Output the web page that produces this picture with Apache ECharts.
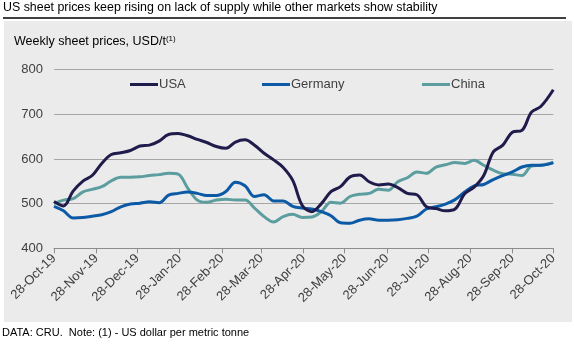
<!DOCTYPE html>
<html>
<head>
<meta charset="utf-8">
<script src="https://cdn.jsdelivr.net/npm/echarts@6/dist/echarts.min.js"></script>
<style>
html,body{margin:0;padding:0;background:#fff;}
#c{width:574px;height:344px;}
</style>
</head>
<body>
<div id="c"></div>
<script>
// Axis range (daily categories) and weekly observation dates
const startDate = '2019-10-28';
const endDate = '2020-10-28';
const seriesNames = ['USA', 'Germany', 'China'];
// weekly values, first point 28-Oct-19, weekly after, last point 28-Oct-20
const usa = [505,495,528,550,563,590,610,614,619,629,631,640,655,657,652,644,637,628,624,638,643,631,613,598,581,552,496,482,500,527,538,560,564,549,542,544,536,523,520,493,489,484,488,522,537,563,616,631,660,664,705,718,755];
const germany = [494,484,468,469,472,475,482,493,499,501,504,502,519,523,526,523,518,518,527,548,540,516,520,506,506,494,490,488,482,473,457,456,463,466,463,463,464,467,472,488,493,499,509,526,540,543,554,563,571,582,586,586,592];
const china = [500,508,511,526,532,538,551,559,559,560,563,565,568,566,535,508,503,508,510,508,508,490,471,459,471,476,469,470,482,503,501,516,521,523,532,530,549,558,571,568,582,587,592,590,597,586,575,567,566,563,584,586,592];
const yTicks = [400, 500, 600, 700, 800];
const colors = ['#1f1b4b', '#0c5aa6', '#5c9e9f'];

const MONTHS = ['Jan','Feb','Mar','Apr','May','Jun','Jul','Aug','Sep','Oct','Nov','Dec'];
function iso(t){ return new Date(t).toISOString().slice(0,10); }
const t0 = Date.parse(startDate + 'T00:00:00Z');
const t1 = Date.parse(endDate + 'T00:00:00Z');
const DAY = 86400000;
const days = [];
for (let t = t0; t <= t1; t += DAY) days.push(iso(t));
// observation dates: weekly from start, final one on endDate
const obsDates = [];
for (let i = 0; i < usa.length - 1; i++) obsDates.push(iso(t0 + i * 7 * DAY));
obsDates.push(endDate);

function fmt(v){
  const [y,m,d] = v.split('-');
  return d + '-' + MONTHS[+m - 1] + '-' + y.slice(2);
}
function isTickDay(idx, v){ return v.slice(8,10) === '28'; }
function pairs(arr){ return arr.map((v,i) => [obsDates[i], v]); }

const chart = echarts.init(document.getElementById('c'), null, {renderer:'canvas'});
const FONT = 'Liberation Sans, Arial, sans-serif';
chart.setOption({
  animation: false,
  backgroundColor: '#ffffff',
  textStyle: { fontFamily: FONT },
  title: [{
    text: 'US sheet prices keep rising on lack of supply while other markets show stability',
    left: 3, top: 2, padding: 0,
    textStyle: { fontSize: 12.4, fontWeight: 'normal', color: '#000', fontFamily: FONT }
  }, {
    text: '{a|Weekly sheet prices, USD/t}{b|(1)}',
    left: 14, top: 35, padding: 0,
    textStyle: {
      fontFamily: FONT, fontWeight: 'normal',
      rich: {
        a: { fontSize: 12.5, color: '#000', fontFamily: FONT, fontWeight: 'normal' },
        b: { fontSize: 8, color: '#000', verticalAlign: 'top', padding: [0,0,6,0], fontFamily: FONT, fontWeight: 'normal' }
      }
    }
  }, {
    text: 'DATA: CRU.  Note: (1) - US dollar per metric tonne',
    left: 2, top: 327, padding: 0,
    textStyle: { fontSize: 11, fontWeight: 'normal', color: '#000', fontFamily: FONT }
  }],
  graphic: [{
    type: 'rect', z: -100, silent: true,
    shape: { x: 4, y: 21, width: 568, height: 301 },
    style: { fill: '#ebebeb' }
  }, {
    type: 'line', z: 10, silent: true,
    shape: { x1: 3, y1: 18, x2: 566, y2: 18 },
    style: { stroke: '#000', lineWidth: 1.3 }
  }],
  legend: seriesNames.map((n, i) => ({
    data: [n],
    left: [130, 262, 422][i],
    top: 78,
    padding: 0,
    icon: 'rect',
    itemWidth: 28,
    itemHeight: 3,
    textStyle: { fontSize: 13, color: '#404040', fontFamily: FONT, padding: [0,0,0,-4] }
  })),
  grid: { left: 54, right: 20.7, top: 69.7, bottom: 95.7, containLabel: false },
  xAxis: {
    type: 'category',
    data: days,
    boundaryGap: false,
    axisLine: { lineStyle: { color: '#8c8c8c', width: 1 } },
    axisTick: { show: true, interval: isTickDay, length: 5, lineStyle: { color: '#8c8c8c' } },
    axisLabel: {
      interval: isTickDay, rotate: 45, formatter: fmt,
      fontSize: 13, color: '#404040', margin: 8, fontFamily: FONT
    },
    splitLine: { show: false }
  },
  yAxis: {
    type: 'value',
    min: yTicks[0], max: yTicks[yTicks.length - 1], interval: 100,
    axisLine: { show: false }, axisTick: { show: false },
    axisLabel: { fontSize: 13, color: '#404040', margin: 11, fontFamily: FONT },
    splitLine: { lineStyle: { color: '#a6a6a6', width: 1 } }
  },
  series: [usa, germany, china].map((arr, i) => ({
    name: seriesNames[i],
    type: 'line',
    data: pairs(arr),
    smooth: 0.35,
    showSymbol: false,
    lineStyle: { width: 3, color: colors[i] },
    itemStyle: { color: colors[i] },
    z: [4, 3, 2][i]
  }))
});
</script>
</body>
</html>
